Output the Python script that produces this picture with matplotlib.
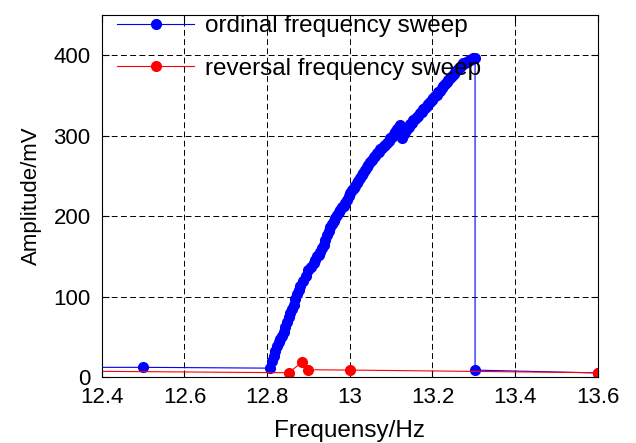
import numpy as np
import matplotlib.pyplot as plt

plt.rcParams['font.family'] = ['Liberation Sans', 'DejaVu Sans']

# ordinal (upward) frequency sweep
ord_freq = [12.3, 12.5, 12.806, 12.812, 12.816, 12.820, 12.824, 12.828, 12.832, 12.836,
            12.840, 12.844, 12.848, 12.852, 12.856, 12.860, 12.864, 12.868, 12.872, 12.876,
            12.880, 12.886, 12.893, 12.900, 12.906, 12.913, 12.917, 12.921, 12.925, 12.929,
            12.933, 12.937, 12.941, 12.945, 12.949, 12.953, 12.957, 12.961, 12.965, 12.969,
            12.973, 12.977, 12.981, 12.985, 12.989, 12.993, 12.997, 13.001, 13.005, 13.009,
            13.013, 13.017, 13.021, 13.025, 13.029, 13.033, 13.037, 13.041, 13.045, 13.049,
            13.053, 13.058, 13.062, 13.066, 13.070, 13.074, 13.078, 13.082, 13.086, 13.090,
            13.094, 13.098, 13.102, 13.106, 13.110, 13.114, 13.118, 13.122, 13.124, 13.126,
            13.130, 13.134, 13.138, 13.142, 13.146, 13.150, 13.154, 13.158, 13.162, 13.166,
            13.170, 13.174, 13.178, 13.182, 13.186, 13.190, 13.194, 13.198, 13.202, 13.206,
            13.210, 13.214, 13.218, 13.222, 13.226, 13.230, 13.234, 13.238, 13.243, 13.247,
            13.251, 13.255, 13.259, 13.263, 13.267, 13.271, 13.275, 13.279, 13.283, 13.287,
            13.291, 13.295, 13.299, 13.303, 13.303, 13.6]
ord_amp = [12, 12, 11, 20, 26, 32, 38, 43, 47, 51,
           56, 62, 68, 74, 79, 84, 90, 97, 103, 108,
           113, 119, 125, 133, 137, 142, 145, 150, 152, 156,
           160, 164, 170, 176, 181, 186, 190, 194, 198, 202,
           205, 208, 211, 213, 216, 220, 225, 229, 232, 235,
           238, 241, 244, 248, 251, 254, 257, 261, 264, 267,
           270, 273, 275, 278, 280, 283, 285, 287, 289, 291,
           294, 297, 299, 302, 305, 308, 311, 313, 300, 297,
           302, 305, 308, 311, 314, 316, 319, 321, 323, 325,
           328, 330, 333, 335, 337, 339, 342, 344, 347, 349,
           351, 354, 356, 359, 362, 364, 367, 369, 372, 374,
           377, 379, 382, 384, 386, 388, 390, 391, 392, 393,
           394, 395, 396, 397, 8.6, 5]

# reversal (downward) frequency sweep
rev_freq = [12.3, 12.852, 12.885, 12.898, 13.0, 13.6]
rev_amp = [7.4, 5.3, 18.5, 9, 8.6, 5.3]

xticks = [12.4, 12.6, 12.8, 13.0, 13.2, 13.4, 13.6]
xticklabels = ['12.4', '12.6', '12.8', '13', '13.2', '13.4', '13.6']

fig = plt.figure(figsize=(6.36, 4.43), dpi=100)
ax = fig.add_axes([0.16, 0.149, 0.780, 0.817])

ax.plot(ord_freq, ord_amp, '-o', color='blue', lw=0.8, ms=7, mec='blue',
        label='ordinal frequency sweep')
ax.plot(rev_freq, rev_amp, '-o', color='red', lw=0.8, ms=7, mec='red',
        label='reversal frequency sweep')

ax.set_xlim(12.4, 13.6)
ax.set_ylim(0, 450)
ax.set_xticks(xticks)
ax.set_xticklabels(xticklabels)
ax.set_yticks([0, 100, 200, 300, 400])
ax.tick_params(direction='in', top=True, right=True, length=5, labelsize=16)
ax.tick_params(axis='x', pad=7.5)
ax.tick_params(axis='y', pad=8)
ax.grid(True, color='k', linestyle=(0, (6, 3.5)), linewidth=0.7)

ax.set_xlabel('Frequensy/Hz', fontsize=17.5, labelpad=8)
ax.set_ylabel('Amplitude/mV', fontsize=16, labelpad=8)

ax.legend(loc='upper left', bbox_to_anchor=(0.03, 1.0), frameon=False,
          fontsize=17.5, handlelength=3.2, handletextpad=0.42, labelspacing=0.85,
          borderpad=0, borderaxespad=0)

fig.savefig('out.png', dpi=100)
